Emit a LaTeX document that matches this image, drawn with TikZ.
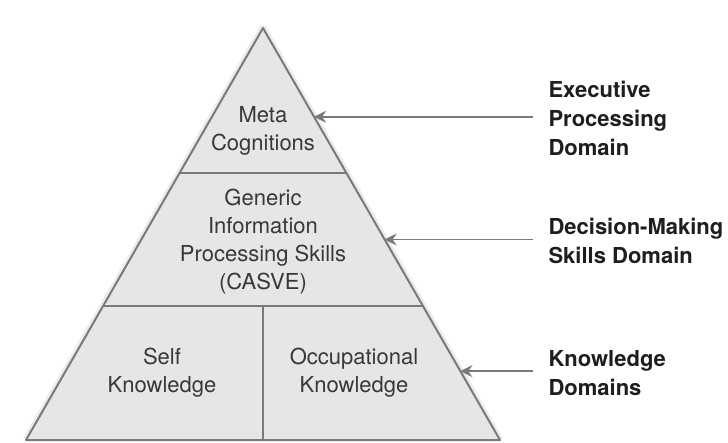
\documentclass[tikz,border=0pt]{standalone}
\usepackage{fontspec}
\setmainfont{TeX Gyre Heros}
\usetikzlibrary{calc,arrows.meta}
\definecolor{pyrfill}{HTML}{E6E6E8}
\definecolor{pyrline}{HTML}{7A7A7A}
\definecolor{pyrtext}{HTML}{383838}
\definecolor{domtext}{HTML}{1E1E1E}
\tikzset{
  layer/.style={text=pyrtext,align=center,font=\fontsize{22}{28}\selectfont},
  domlabel/.style={text=domtext,align=left,anchor=west,font=\bfseries\fontsize{22}{29}\selectfont},
  domarrow/.style={draw=pyrline,line width=1.6pt,-{Stealth[length=12pt,width=12pt,inset=4pt]}}
}

\begin{document}
\begin{tikzpicture}[x=1pt,y=-1pt]
\useasboundingbox (0,0) rectangle (728,442);
%% corners of the pyramid
\coordinate (apex) at (263,28);
\coordinate (baseL) at (26,440);
\coordinate (baseR) at (500,440);
\coordinate (split) at (263,307);
\coordinate (splitB) at (263,440);
%soft shadow and body
\draw[line width=7pt,gray!15,line join=round] (baseL) -- (apex) -- (baseR);
\fill[pyrfill] (baseL) -- (apex) -- (baseR) -- cycle;
%dividing lines
\coordinate (topL) at ($(apex)!0.351!(baseL)$);
\coordinate (topR) at ($(apex)!0.351!(baseR)$);
\coordinate (midL) at ($(apex)!0.6755!(baseL)$);
\coordinate (midR) at ($(apex)!0.6755!(baseR)$);
\draw[pyrline,line width=2pt] (topL) -- (topR);
\draw[pyrline,line width=2pt] (midL) -- (midR);
\draw[pyrline,line width=2pt] (split) -- (splitB);
\draw[pyrline,line width=2pt,line join=round] (baseL) -- (apex) -- (baseR) -- cycle;
%the layers
\node [layer] (meta) at (263,131) {Meta\\Cognitions};
\node [layer] (generic) at (263,242) {Generic\\Information\\Processing Skills\\(CASVE)};
\node [layer] (self) at (162,373) {Self\\Knowledge};
\node [layer] (occup) at (354,373) {Occupational\\Knowledge};
%the domains
\node [domlabel] (execDom) at (545,118) {Executive\\Processing\\Domain};
\node [domlabel] (decDom) at (545,241) {Decision-Making\\Skills Domain};
\node [domlabel] (knowDom) at (545,373) {Knowledge\\Domains};
%arrow tips on the right edge
\coordinate (execTip) at ($(apex)!0.2155!(baseR)$);
\coordinate (decTip) at ($(apex)!0.5133!(baseR)$);
\coordinate (knowTip) at ($(apex)!0.8329!(baseR)$);
%drawings of arrows
\draw[domarrow] ([xshift=-12pt]execDom.west |- execTip) -- (execTip);
\draw[domarrow] ([xshift=-12pt]decDom.west |- decTip) -- (decTip);
\draw[domarrow] ([xshift=-12pt]knowDom.west |- knowTip) -- (knowTip);
\end{tikzpicture}
\end{document}
